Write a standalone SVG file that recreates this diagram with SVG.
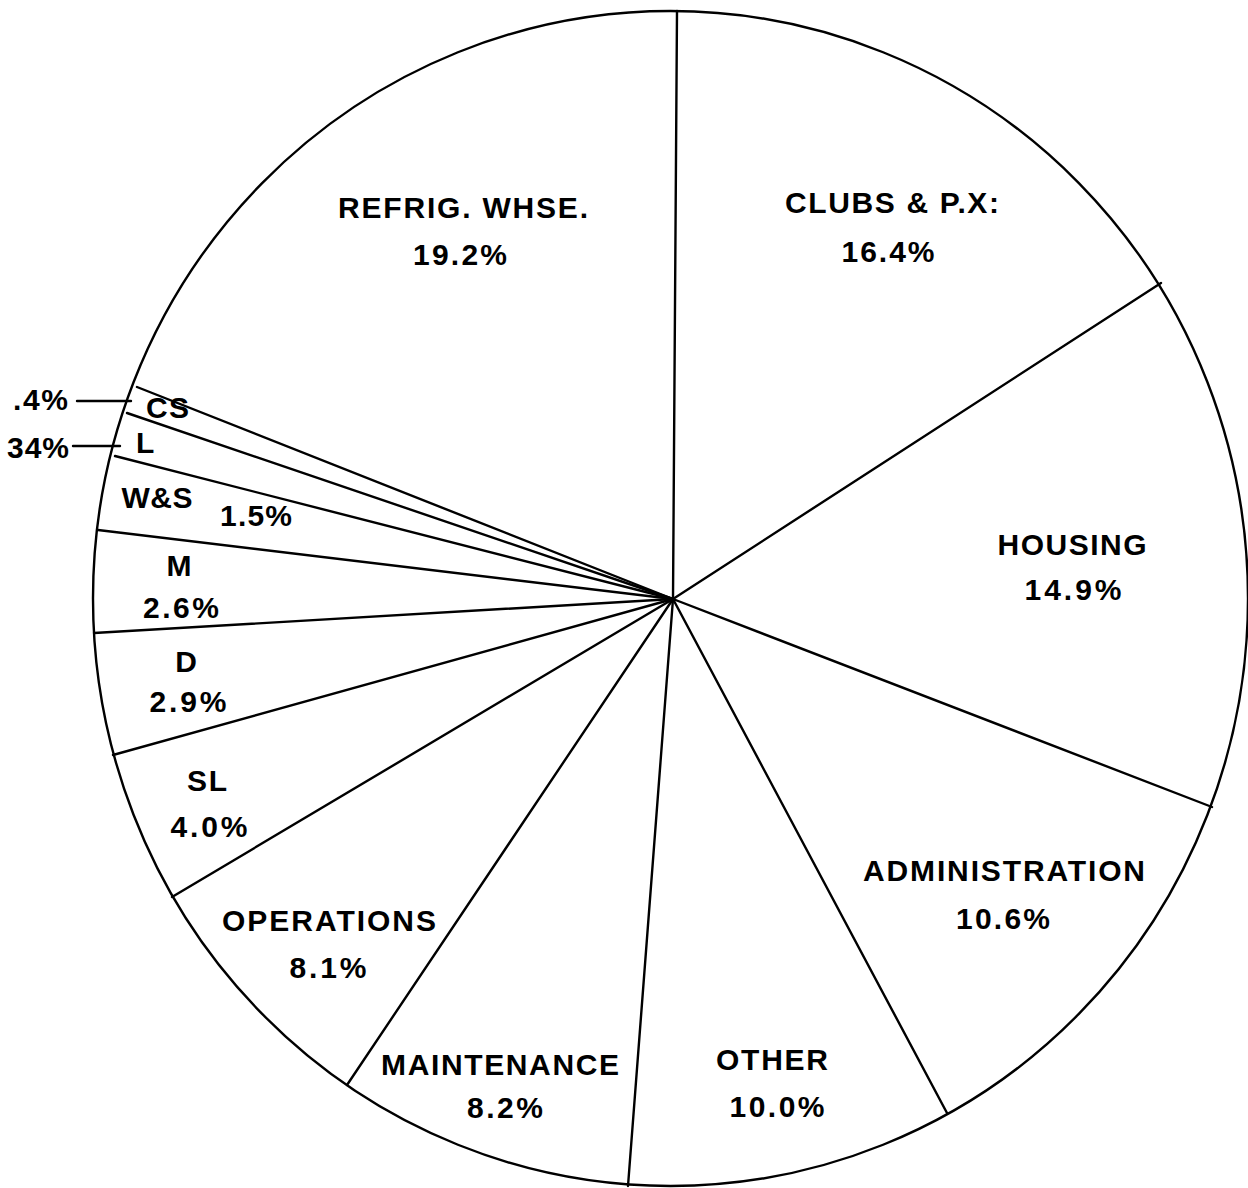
<svg xmlns="http://www.w3.org/2000/svg" width="1248" height="1188" viewBox="0 0 1248 1188">
<style>
.ln{stroke:#000;stroke-width:2.4;fill:none;stroke-linecap:round}
.t{font-family:"Liberation Sans",Arial,sans-serif;font-weight:bold;font-size:30px;fill:#000;text-anchor:middle}
.ts{font-family:"Liberation Sans",Arial,sans-serif;font-weight:bold;font-size:30px;fill:#000;text-anchor:start}
</style>
<rect width="1248" height="1188" fill="#fff"/>
<g id="pie-outline">
<ellipse class="ln" cx="670.5" cy="598.5" rx="577.5" ry="587.5"/>
</g>
<g id="spokes">
<line class="ln" x1="673" y1="599" x2="677" y2="11"/>
<line class="ln" x1="673" y1="599" x2="1161" y2="283"/>
<line class="ln" x1="673" y1="599" x2="1212" y2="807"/>
<line class="ln" x1="673" y1="599" x2="947" y2="1113"/>
<line class="ln" x1="673" y1="599" x2="628" y2="1186"/>
<line class="ln" x1="673" y1="599" x2="347" y2="1085"/>
<line class="ln" x1="673" y1="599" x2="172" y2="897"/>
<line class="ln" x1="673" y1="599" x2="113" y2="755"/>
<line class="ln" x1="673" y1="599" x2="94" y2="633"/>
<line class="ln" x1="673" y1="599" x2="98" y2="530"/>
<line class="ln" x1="673" y1="599" x2="115" y2="456"/>
<line class="ln" x1="673" y1="599" x2="127" y2="413"/>
<line class="ln" x1="673" y1="599" x2="137" y2="387"/>
</g>
<g id="connectors">
<line class="ln" x1="77" y1="401" x2="131" y2="401"/>
<line class="ln" x1="73" y1="446" x2="120" y2="446"/>
</g>
<g id="refrig">
<text class="t" x="463" y="218" textLength="250">REFRIG. WHSE.</text>
<text class="t" x="460" y="265" textLength="94">19.2%</text>
</g>
<g id="clubs">
<text class="t" x="892" y="213" textLength="214">CLUBS &amp; P.X:</text>
<text class="t" x="888" y="262" textLength="93">16.4%</text>
</g>
<g id="housing">
<text class="t" x="1072" y="555" textLength="149">HOUSING</text>
<text class="t" x="1073" y="600" textLength="97">14.9%</text>
</g>
<g id="administration">
<text class="t" x="1004" y="881" textLength="282">ADMINISTRATION</text>
<text class="t" x="1003" y="929" textLength="94">10.6%</text>
</g>
<g id="other">
<text class="t" x="772" y="1070" textLength="112">OTHER</text>
<text class="t" x="777" y="1117" textLength="95">10.0%</text>
</g>
<g id="maintenance">
<text class="t" x="500" y="1075" textLength="238">MAINTENANCE</text>
<text class="t" x="505" y="1118" textLength="76">8.2%</text>
</g>
<g id="operations">
<text class="t" x="329" y="931" textLength="214">OPERATIONS</text>
<text class="t" x="328" y="978" textLength="77">8.1%</text>
</g>
<g id="sl">
<text class="t" x="207" y="791" textLength="40">SL</text>
<text class="t" x="209" y="837" textLength="77">4.0%</text>
</g>
<g id="d">
<text class="t" x="186" y="672">D</text>
<text class="t" x="188" y="712" textLength="77">2.9%</text>
</g>
<g id="m">
<text class="t" x="179" y="576">M</text>
<text class="t" x="181" y="618" textLength="76">2.6%</text>
</g>
<g id="ws">
<text class="t" x="157" y="508" textLength="71">W&amp;S</text>
<text class="t" x="256" y="526" textLength="72">1.5%</text>
</g>
<g id="l">
<text class="ts" x="136" y="453">L</text>
<text class="ts" x="7" y="458" textLength="62">34%</text>
</g>
<g id="cs">
<text class="ts" x="146" y="418" textLength="43">CS</text>
<text class="ts" x="13" y="410" textLength="55">.4%</text>
</g>
</svg>
